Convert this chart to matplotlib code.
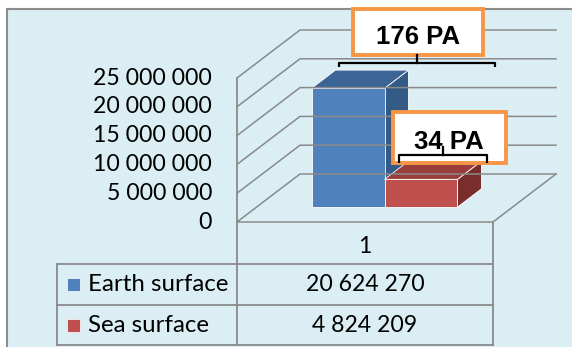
import matplotlib
matplotlib.use("Agg")
import matplotlib.pyplot as plt
from matplotlib.patches import Polygon, Rectangle

# chart data
categories = ["1"]
series_names = ["Earth surface", "Sea surface"]
series_values = [20624270, 4824209]
series_colors = [("#4F81BD", "#3C6494", "#345A86"),   # front, top, side
                 ("#C0504D", "#993D3B", "#7A2E2C")]
y_ticks = [0, 5000000, 10000000, 15000000, 20000000, 25000000]
callouts = ["176 PA", "34 PA"]

W, H = 572, 347
BG = "#DAEEF3"
GRID = "#8A8A8A"
TICK_FONT = ["Lato", "DejaVu Sans"]
CALLOUT_FONT = ["Liberation Sans", "DejaVu Sans"]

# oblique projection of the plot box (pixel units)
X0, XW = 237, 256          # front plane left edge and width
Y0 = 222                   # front floor line
PX_PER = 144 / y_ticks[-1]
DX, DY = 63, -48           # full depth offset
D0, D1 = 0.31, 0.69        # bar depth range


def proj(xf, v, d):
    return X0 + xf + DX * d, Y0 - v * PX_PER + DY * d


def fmt(v):
    return f"{v:,}".replace(",", " ")


fig = plt.figure(figsize=(W / 100, H / 100), dpi=100)
ax = fig.add_axes([0, 0, 1, 1])
ax.set_xlim(0, W)
ax.set_ylim(H, 0)
ax.axis("off")

# chart area frame
ax.add_patch(Rectangle((7, 9), W, H, facecolor=BG, edgecolor="none"))
ax.plot([7, W], [9, 9], color="#8C8C8C", lw=1.5)
ax.plot([7, 7], [9, H], color="#8C8C8C", lw=1.5)

# side and back wall gridlines + tick labels
for v in y_ticks:
    pts = [proj(0, v, 0), proj(0, v, 1), proj(XW, v, 1)]
    ax.plot([p[0] for p in pts], [p[1] for p in pts], color=GRID, lw=1.1)
    ax.text(212, proj(0, v, 0)[1], fmt(v), ha="right", va="center",
            fontsize=16.6, family=TICK_FONT)

# floor outline
pts = [proj(0, 0, 0), proj(XW, 0, 0), proj(XW, 0, 1)]
ax.plot([p[0] for p in pts], [p[1] for p in pts], color=GRID, lw=1.1)

# bars
bar_w = XW * 0.285
start = XW / 2 - bar_w * len(series_values) / 2
for i, (v, (cf, ct, cs)) in enumerate(zip(series_values, series_colors)):
    xa = start + i * bar_w
    xb = xa + bar_w
    front = [proj(xa, 0, D0), proj(xb, 0, D0), proj(xb, v, D0), proj(xa, v, D0)]
    top = [proj(xa, v, D0), proj(xb, v, D0), proj(xb, v, D1), proj(xa, v, D1)]
    side = [proj(xb, 0, D0), proj(xb, 0, D1), proj(xb, v, D1), proj(xb, v, D0)]
    for poly, c in ((side, cs), (top, ct), (front, cf)):
        ax.add_patch(Polygon(poly, closed=True, facecolor=c,
                             edgecolor="white", lw=0.6))

# data table
TL = 57
ax.plot([X0, X0], [proj(0, y_ticks[-1], 0)[1], 345], color=GRID, lw=1.3)
ax.plot([X0 + XW, X0 + XW], [Y0, 345], color=GRID, lw=1.3)
ax.plot([TL, TL], [264, 345], color=GRID, lw=1.3)
for yy in (264, 305, 345):
    ax.plot([TL, X0 + XW], [yy, yy], color=GRID, lw=1.3)
ax.text(X0 + XW / 2, 246, categories[0], ha="center", va="center",
        fontsize=16.6, family=TICK_FONT)
row_y = [284.5, 325]
for name, v, cols, yy in zip(series_names, series_values, series_colors, row_y):
    ax.add_patch(Rectangle((67, yy - 6.5), 13, 13, facecolor=cols[0],
                           edgecolor="white", lw=0.5))
    ax.text(88, yy, name, ha="left", va="center", fontsize=17.3,
            family=TICK_FONT)
    ax.text(X0 + XW / 2, yy, fmt(v), ha="center", va="center",
            fontsize=16.6, family=TICK_FONT)

# callout boxes with brackets
boxes = [(353, 9, 130, 46), (393, 112, 113, 51)]
text_pos = [(418, 37), (449, 142)]
brackets = [(339, 495, 63, 67, 417, 55), (399, 487, 155, 163, 443, 147)]
for label, (bx, by, bw, bh), (tx, ty), br in zip(callouts, boxes, text_pos, brackets):
    ax.add_patch(Rectangle((bx, by), bw, bh, facecolor="white",
                           edgecolor="#F79646", lw=2.8, zorder=5))
    ax.text(tx, ty, label, ha="center", va="center", fontsize=18.5,
            fontweight="bold", family=CALLOUT_FONT, zorder=6)
    xl, xr, yh, ye, xc, yc = br
    ax.plot([xl, xl, xr, xr], [ye, yh, yh, ye], color="black", lw=1.6,
            zorder=7, solid_capstyle="butt")
    ax.plot([xc, xc], [yh, yc], color="black", lw=1.6, zorder=7)

fig.savefig("out.png", dpi=100)
